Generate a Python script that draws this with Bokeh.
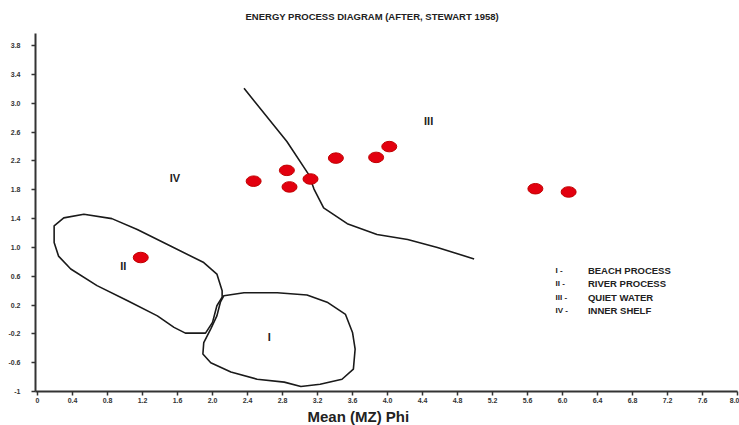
from bokeh.plotting import figure
from bokeh.models import FixedTicker, Range1d, Title
from bokeh.core.properties import value
from bokeh.embed import file_html
from bokeh.resources import INLINE

# ---- data ----
mean_phi = [1.18, 2.47, 2.85, 2.88, 3.12, 3.41, 3.87, 4.02, 5.69, 6.07]
sorting = [0.86, 1.92, 2.07, 1.84, 1.95, 2.24, 2.25, 2.40, 1.815, 1.77]

boundary_x = [2.36, 2.85, 3.10, 3.16, 3.27, 3.54, 3.88, 4.23, 4.57, 4.99]
boundary_y = [3.21, 2.47, 2.01, 1.81, 1.55, 1.33, 1.18, 1.11, 1.00, 0.84]

river_x = [0.19, 0.30, 0.53, 0.85, 1.14, 1.52, 1.90, 2.05, 2.11, 2.11, 2.05, 2.00,
           1.92, 1.69, 1.56, 1.37, 1.03, 0.68, 0.38, 0.24, 0.19]
river_y = [1.30, 1.41, 1.46, 1.40, 1.25, 1.02, 0.79, 0.63, 0.40, 0.31, 0.19, -0.04,
           -0.19, -0.19, -0.11, 0.05, 0.26, 0.47, 0.70, 0.88, 1.07]

beach_x = [2.13, 2.36, 2.74, 3.08, 3.31, 3.52, 3.60, 3.63, 3.61, 3.48, 3.23, 3.01,
           2.82, 2.51, 2.21, 1.98, 1.89, 1.90, 1.98, 2.05, 2.09]
beach_y = [0.33, 0.37, 0.37, 0.34, 0.24, 0.07, -0.18, -0.41, -0.69, -0.83, -0.90, -0.93,
           -0.87, -0.83, -0.73, -0.60, -0.48, -0.32, -0.13, 0.05, 0.24]

region_names = ["I", "II", "III", "IV"]
region_x = [2.65, 0.98, 4.47, 1.57]
region_y = [-0.24, 0.74, 2.76, 1.96]

legend_numerals = ["I -", "II -", "III -", "IV -"]
legend_texts = ["BEACH PROCESS", "RIVER PROCESS", "QUIET WATER", "INNER SHELF"]
legend_y = [0.68, 0.50, 0.31, 0.13]

x_ticks = [0, 0.4, 0.8, 1.2, 1.6, 2.0, 2.4, 2.8, 3.2, 3.6, 4.0, 4.4, 4.8, 5.2, 5.6,
           6.0, 6.4, 6.8, 7.2, 7.6, 8.0]
x_tick_labels = ["0", "0.4", "0.8", "1.2", "1.6", "2.0", "2.4", "2.8", "3.2", "3.6", "4.0",
                 "4.4", "4.8", "5.2", "5.6", "6.0", "6.4", "6.8", "7.2", "7.6", "8.0"]
y_ticks = [-1, -0.6, -0.2, 0.2, 0.6, 1.0, 1.4, 1.8, 2.2, 2.6, 3.0, 3.4, 3.8]
y_tick_labels = ["-1", "-0.6", "-0.2", "0.2", "0.6", "1.0", "1.4", "1.8", "2.2", "2.6",
                 "3.0", "3.4", "3.8"]

title_text = "ENERGY PROCESS DIAGRAM (AFTER, STEWART 1958)"
x_label_text = "Mean (MZ) Phi"

FONT = "Liberation Sans"
INK = "#222222"

p = figure(width=739, height=425, output_backend="svg", toolbar_location=None,
           x_range=Range1d(-0.023, 8.0), y_range=Range1d(-1.0, 3.97),
           min_border_left=35, min_border_right=2, min_border_top=33, min_border_bottom=33,
           title=None)
p.outline_line_color = None
p.grid.visible = False
p.background_fill_color = "white"

p.add_layout(Title(text=title_text, text_font=FONT, text_font_size="9.5px",
                   text_font_style="bold", align="left", offset=210, standoff=20,
                   vertical_align="top", text_color=INK), "above")

for ax in (p.xaxis[0], p.yaxis[0]):
    ax.axis_line_color = "#333333"
    ax.axis_line_width = 2
    ax.major_tick_line_color = "#333333"
    ax.major_tick_line_width = 1.5
    ax.major_tick_out = 4
    ax.major_tick_in = 0
    ax.minor_tick_line_color = None
    ax.major_label_text_font = FONT
    ax.major_label_text_font_style = "bold"
    ax.major_label_text_font_size = "7px"
    ax.major_label_text_color = "#333333"

p.yaxis.major_label_standoff = 11
p.xaxis.major_label_standoff = 2

p.xaxis.ticker = FixedTicker(ticks=x_ticks)
p.xaxis.major_label_overrides = {t: l for t, l in zip(x_ticks, x_tick_labels)}
p.yaxis.ticker = FixedTicker(ticks=y_ticks)
p.yaxis.major_label_overrides = {t: l for t, l in zip(y_ticks, y_tick_labels)}

# x-axis title, placed left of centre like the reference
p.add_layout(Title(text=x_label_text, text_font=FONT, text_font_size="15px",
                   text_font_style="bold", align="left", offset=272, standoff=1,
                   text_color=INK), "below")

# region outlines
p.patches([river_x, beach_x], [river_y, beach_y], fill_color=None,
          line_color="#1a1a1a", line_width=1.6)
p.line(boundary_x, boundary_y, line_color="#1a1a1a", line_width=1.6)

# samples
p.ellipse(mean_phi, sorting, width=15, height=10.5, width_units="screen",
          height_units="screen", fill_color="#e3000f", line_color="#c00000", line_width=1)

# region labels
p.text(region_x, region_y, text=region_names, text_font=value(FONT),
       text_font_style="bold", text_font_size="11px", text_align="center",
       text_baseline="middle", text_color=INK)

# legend
p.text([5.92] * 4, legend_y, text=legend_numerals, text_font=value(FONT),
       text_font_style="bold", text_font_size="8px", text_align="left",
       text_baseline="middle", text_color=INK)
p.text([6.29] * 4, legend_y, text=legend_texts, text_font=value(FONT),
       text_font_style="bold", text_font_size="9.5px", text_align="left",
       text_baseline="middle", text_color=INK)

open("out.html", "w").write(file_html(p, INLINE))
